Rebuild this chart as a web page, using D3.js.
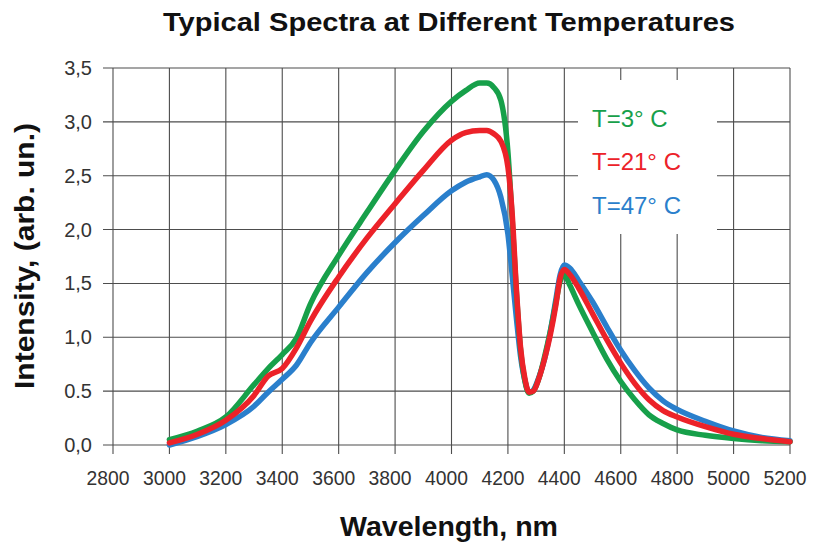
<!DOCTYPE html>
<html>
<head>
<meta charset="utf-8">
<script src="https://cdn.jsdelivr.net/npm/d3@7"></script>
<style>
  html, body { margin: 0; padding: 0; background: #fff; }
  svg { display: block; font-family: "Liberation Sans", Arial, sans-serif; }
</style>
</head>
<body>
<svg id="chart" width="815" height="542"></svg>
<script>
// Wavelength grid (nm) shared by all three spectra
const wavelengths = [3000, 3100, 3200, 3300, 3350, 3400, 3450, 3500, 3600, 3700, 3800, 3900, 4000, 4050, 4100, 4125, 4150, 4175, 4200, 4215, 4230, 4245, 4260, 4275, 4290, 4310, 4330, 4350, 4370, 4385, 4400, 4420, 4450, 4500, 4550, 4600, 4650, 4700, 4750, 4800, 4900, 5000, 5100, 5200];

// Intensity (arb. un.) at each wavelength
const intensity3C  = [0.05, 0.13, 0.26, 0.56, 0.71, 0.84, 0.99, 1.31, 1.76, 2.16, 2.55, 2.91, 3.19, 3.29, 3.36, 3.36, 3.32, 3.20, 2.72, 2.10, 1.42, 0.88, 0.60, 0.48, 0.50, 0.62, 0.82, 1.05, 1.32, 1.52, 1.58, 1.48, 1.31, 1.05, 0.80, 0.59, 0.42, 0.28, 0.20, 0.14, 0.09, 0.06, 0.04, 0.03];
const intensity21C = [0.02, 0.10, 0.23, 0.46, 0.64, 0.71, 0.90, 1.15, 1.56, 1.92, 2.24, 2.55, 2.83, 2.90, 2.92, 2.92, 2.89, 2.82, 2.58, 2.15, 1.45, 0.90, 0.62, 0.49, 0.50, 0.62, 0.80, 1.02, 1.30, 1.55, 1.63, 1.58, 1.46, 1.22, 0.98, 0.76, 0.57, 0.42, 0.32, 0.26, 0.17, 0.10, 0.06, 0.03];
const intensity47C = [0.00, 0.08, 0.19, 0.36, 0.49, 0.61, 0.74, 0.95, 1.28, 1.60, 1.88, 2.13, 2.36, 2.44, 2.49, 2.51, 2.46, 2.30, 1.96, 1.58, 1.18, 0.82, 0.60, 0.49, 0.51, 0.63, 0.80, 1.05, 1.35, 1.58, 1.67, 1.64, 1.53, 1.33, 1.10, 0.88, 0.69, 0.53, 0.41, 0.33, 0.22, 0.13, 0.07, 0.04];

const seriesNames  = ["T=3° C", "T=21° C", "T=47° C"];
const seriesColors = ["#17a04a", "#ec2229", "#2a7fcc"];

// Axis ticks and their printed labels
const xTicks = [2800, 3000, 3200, 3400, 3600, 3800, 4000, 4200, 4400, 4600, 4800, 5000, 5200];
const yTicks = [0, 0.5, 1.0, 1.5, 2.0, 2.5, 3.0, 3.5];
const yTickLabels = ["0,0", "0.5", "1,0", "1,5", "2,0", "2,5", "3,0", "3,5"];

const titleText  = "Typical Spectra at Different Temperatures";
const xTitleText = "Wavelength, nm";
const yTitleText = "Intensity, (arb. un.)";

const svg = d3.select("#chart");
const plot = { left: 113, right: 790, top: 68, bottom: 445 };

const x = d3.scaleLinear().domain([2800, 5200]).range([plot.left, plot.right]);
const y = d3.scaleLinear().domain([0, 3.5]).range([plot.bottom, plot.top]);

const gridColor = "#4d4d4d";

// Vertical grid lines, extending below the axis as tick marks
svg.append("g").selectAll("line").data(xTicks).join("line")
  .attr("x1", d => x(d)).attr("x2", d => x(d))
  .attr("y1", y(3.5)).attr("y2", y(0) + 9)
  .attr("stroke", gridColor).attr("stroke-width", 1.1);

// Horizontal grid lines, extending left of the axis as tick marks
svg.append("g").selectAll("line").data(yTicks).join("line")
  .attr("x1", d => x(2800) - 10).attr("x2", x(5200))
  .attr("y1", d => y(d)).attr("y2", d => y(d))
  .attr("stroke", gridColor).attr("stroke-width", 1.1);

// Legend panel masks the grid behind it
svg.append("rect")
  .attr("x", 578).attr("y", 80).attr("width", 139).attr("height", 154)
  .attr("fill", "#fff");

// Tick labels
svg.append("g").selectAll("text").data(xTicks).join("text")
  .attr("x", d => x(d) - 5).attr("y", 485)
  .attr("text-anchor", "middle")
  .attr("font-size", 20).attr("fill", "#333")
  .attr("textLength", 43).attr("lengthAdjust", "spacingAndGlyphs")
  .text(d => d);

svg.append("g").selectAll("text").data(yTicks).join("text")
  .attr("x", 92).attr("y", d => y(d) + 7)
  .attr("text-anchor", "end")
  .attr("font-size", 20).attr("fill", "#333")
  .text((d, i) => yTickLabels[i]);

// Spectra
const series = [intensity3C, intensity21C, intensity47C];
const line = d3.line()
  .x(d => x(d[0])).y(d => y(d[1]))
  .curve(d3.curveMonotoneX);

const drawOrder = [2, 0, 1];
svg.append("g").selectAll("path").data(drawOrder).join("path")
  .attr("d", i => line(wavelengths.map((w, k) => [w, series[i][k]])))
  .attr("fill", "none")
  .attr("stroke", i => seriesColors[i])
  .attr("stroke-width", 5.5)
  .attr("stroke-linejoin", "round")
  .attr("stroke-linecap", "round");

// Legend
const legendBaselines = [127, 170, 214];
svg.append("g").selectAll("text").data(seriesNames).join("text")
  .attr("x", 592).attr("y", (d, i) => legendBaselines[i])
  .attr("font-size", 24)
  .attr("fill", (d, i) => seriesColors[i])
  .text(d => d);

// Titles
svg.append("text")
  .attr("x", 449).attr("y", 31)
  .attr("text-anchor", "middle")
  .attr("font-size", 26).attr("font-weight", "bold").attr("fill", "#111")
  .attr("textLength", 572).attr("lengthAdjust", "spacingAndGlyphs")
  .text(titleText);

svg.append("text")
  .attr("x", 449).attr("y", 536)
  .attr("text-anchor", "middle")
  .attr("font-size", 27).attr("font-weight", "bold").attr("fill", "#111")
  .attr("textLength", 218).attr("lengthAdjust", "spacingAndGlyphs")
  .text(xTitleText);

svg.append("text")
  .attr("transform", "translate(34,256) rotate(-90)")
  .attr("text-anchor", "middle")
  .attr("font-size", 27).attr("font-weight", "bold").attr("fill", "#111")
  .attr("textLength", 266).attr("lengthAdjust", "spacingAndGlyphs")
  .text(yTitleText);
</script>
</body>
</html>
